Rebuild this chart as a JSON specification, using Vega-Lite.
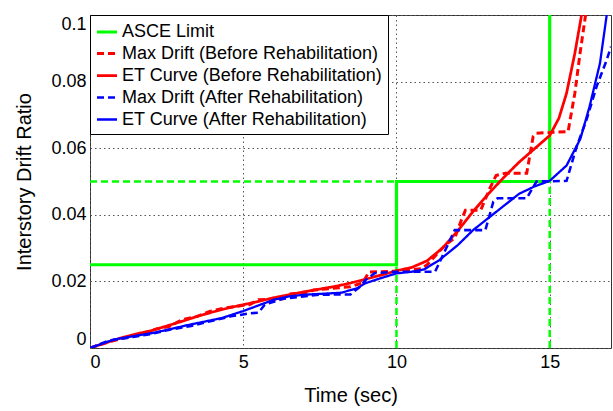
{
  "$schema": "https://vega.github.io/schema/vega-lite/v6.json",
  "width": 521,
  "height": 333,
  "autosize": {"type": "none"},
  "padding": {"left": 90, "top": 15, "right": 2, "bottom": 63},
  "background": "white",
  "datasets": {
    "guides": [
      {"seg": "a", "x": 10, "y": 0}, {"seg": "a", "x": 10, "y": 0.0245},
      {"seg": "b", "x": 0, "y": 0.05}, {"seg": "b", "x": 10, "y": 0.05},
      {"seg": "c", "x": 15, "y": 0}, {"seg": "c", "x": 15, "y": 0.05}
    ],
    "curves": [
      {"s": "ASCE Limit", "x": 0, "y": 0.025},
      {"s": "ASCE Limit", "x": 10, "y": 0.025},
      {"s": "ASCE Limit", "x": 10, "y": 0.05},
      {"s": "ASCE Limit", "x": 15, "y": 0.05},
      {"s": "ASCE Limit", "x": 15, "y": 0.1},

      {"s": "Max Drift (Before Rehabilitation)", "x": 0, "y": 0},
      {"s": "Max Drift (Before Rehabilitation)", "x": 0.5, "y": 0.0015},
      {"s": "Max Drift (Before Rehabilitation)", "x": 1, "y": 0.0028},
      {"s": "Max Drift (Before Rehabilitation)", "x": 1.6, "y": 0.004},
      {"s": "Max Drift (Before Rehabilitation)", "x": 2.2, "y": 0.0058},
      {"s": "Max Drift (Before Rehabilitation)", "x": 2.6, "y": 0.0065},
      {"s": "Max Drift (Before Rehabilitation)", "x": 3, "y": 0.0085},
      {"s": "Max Drift (Before Rehabilitation)", "x": 3.5, "y": 0.0095},
      {"s": "Max Drift (Before Rehabilitation)", "x": 3.9, "y": 0.011},
      {"s": "Max Drift (Before Rehabilitation)", "x": 4.4, "y": 0.012},
      {"s": "Max Drift (Before Rehabilitation)", "x": 5, "y": 0.0128},
      {"s": "Max Drift (Before Rehabilitation)", "x": 5.2, "y": 0.013},
      {"s": "Max Drift (Before Rehabilitation)", "x": 5.5, "y": 0.0145},
      {"s": "Max Drift (Before Rehabilitation)", "x": 6.3, "y": 0.0148},
      {"s": "Max Drift (Before Rehabilitation)", "x": 6.5, "y": 0.0162},
      {"s": "Max Drift (Before Rehabilitation)", "x": 7.1, "y": 0.0166},
      {"s": "Max Drift (Before Rehabilitation)", "x": 7.3, "y": 0.0174},
      {"s": "Max Drift (Before Rehabilitation)", "x": 8.5, "y": 0.0184},
      {"s": "Max Drift (Before Rehabilitation)", "x": 8.9, "y": 0.0196},
      {"s": "Max Drift (Before Rehabilitation)", "x": 9.1, "y": 0.0228},
      {"s": "Max Drift (Before Rehabilitation)", "x": 10, "y": 0.0231},
      {"s": "Max Drift (Before Rehabilitation)", "x": 10.8, "y": 0.0238},
      {"s": "Max Drift (Before Rehabilitation)", "x": 11, "y": 0.025},
      {"s": "Max Drift (Before Rehabilitation)", "x": 11.3, "y": 0.028},
      {"s": "Max Drift (Before Rehabilitation)", "x": 11.6, "y": 0.031},
      {"s": "Max Drift (Before Rehabilitation)", "x": 11.9, "y": 0.033},
      {"s": "Max Drift (Before Rehabilitation)", "x": 12.1, "y": 0.038},
      {"s": "Max Drift (Before Rehabilitation)", "x": 12.25, "y": 0.0414},
      {"s": "Max Drift (Before Rehabilitation)", "x": 12.75, "y": 0.0414},
      {"s": "Max Drift (Before Rehabilitation)", "x": 13.05, "y": 0.048},
      {"s": "Max Drift (Before Rehabilitation)", "x": 13.25, "y": 0.0518},
      {"s": "Max Drift (Before Rehabilitation)", "x": 13.55, "y": 0.0525},
      {"s": "Max Drift (Before Rehabilitation)", "x": 14.25, "y": 0.0525},
      {"s": "Max Drift (Before Rehabilitation)", "x": 14.46, "y": 0.0635},
      {"s": "Max Drift (Before Rehabilitation)", "x": 14.57, "y": 0.0645},
      {"s": "Max Drift (Before Rehabilitation)", "x": 15.6, "y": 0.065},
      {"s": "Max Drift (Before Rehabilitation)", "x": 15.82, "y": 0.0765},
      {"s": "Max Drift (Before Rehabilitation)", "x": 15.99, "y": 0.0885},
      {"s": "Max Drift (Before Rehabilitation)", "x": 16.17, "y": 0.1},

      {"s": "ET Curve (Before Rehabilitation)", "x": 0, "y": 0},
      {"s": "ET Curve (Before Rehabilitation)", "x": 0.5, "y": 0.0015},
      {"s": "ET Curve (Before Rehabilitation)", "x": 1, "y": 0.003},
      {"s": "ET Curve (Before Rehabilitation)", "x": 1.5, "y": 0.0042},
      {"s": "ET Curve (Before Rehabilitation)", "x": 2, "y": 0.0052},
      {"s": "ET Curve (Before Rehabilitation)", "x": 2.5, "y": 0.0066},
      {"s": "ET Curve (Before Rehabilitation)", "x": 3, "y": 0.008},
      {"s": "ET Curve (Before Rehabilitation)", "x": 3.5, "y": 0.0095},
      {"s": "ET Curve (Before Rehabilitation)", "x": 4, "y": 0.0108},
      {"s": "ET Curve (Before Rehabilitation)", "x": 4.5, "y": 0.012},
      {"s": "ET Curve (Before Rehabilitation)", "x": 5, "y": 0.013},
      {"s": "ET Curve (Before Rehabilitation)", "x": 5.5, "y": 0.014},
      {"s": "ET Curve (Before Rehabilitation)", "x": 6, "y": 0.0151},
      {"s": "ET Curve (Before Rehabilitation)", "x": 6.5, "y": 0.016},
      {"s": "ET Curve (Before Rehabilitation)", "x": 7, "y": 0.0169},
      {"s": "ET Curve (Before Rehabilitation)", "x": 7.5, "y": 0.0177},
      {"s": "ET Curve (Before Rehabilitation)", "x": 8, "y": 0.0185},
      {"s": "ET Curve (Before Rehabilitation)", "x": 8.5, "y": 0.0195},
      {"s": "ET Curve (Before Rehabilitation)", "x": 9, "y": 0.0207},
      {"s": "ET Curve (Before Rehabilitation)", "x": 9.5, "y": 0.0219},
      {"s": "ET Curve (Before Rehabilitation)", "x": 10, "y": 0.0232},
      {"s": "ET Curve (Before Rehabilitation)", "x": 10.5, "y": 0.0242},
      {"s": "ET Curve (Before Rehabilitation)", "x": 11, "y": 0.0262},
      {"s": "ET Curve (Before Rehabilitation)", "x": 11.5, "y": 0.03},
      {"s": "ET Curve (Before Rehabilitation)", "x": 12, "y": 0.0352},
      {"s": "ET Curve (Before Rehabilitation)", "x": 12.5, "y": 0.041},
      {"s": "ET Curve (Before Rehabilitation)", "x": 13, "y": 0.0463},
      {"s": "ET Curve (Before Rehabilitation)", "x": 13.5, "y": 0.0512},
      {"s": "ET Curve (Before Rehabilitation)", "x": 14, "y": 0.0558},
      {"s": "ET Curve (Before Rehabilitation)", "x": 14.5, "y": 0.0598},
      {"s": "ET Curve (Before Rehabilitation)", "x": 15, "y": 0.0638},
      {"s": "ET Curve (Before Rehabilitation)", "x": 15.3, "y": 0.069},
      {"s": "ET Curve (Before Rehabilitation)", "x": 15.55, "y": 0.0765},
      {"s": "ET Curve (Before Rehabilitation)", "x": 15.82, "y": 0.0885},
      {"s": "ET Curve (Before Rehabilitation)", "x": 16.04, "y": 0.1},

      {"s": "Max Drift (After Rehabilitation)", "x": 0, "y": 0},
      {"s": "Max Drift (After Rehabilitation)", "x": 0.6, "y": 0.0022},
      {"s": "Max Drift (After Rehabilitation)", "x": 1.2, "y": 0.003},
      {"s": "Max Drift (After Rehabilitation)", "x": 2, "y": 0.0042},
      {"s": "Max Drift (After Rehabilitation)", "x": 2.6, "y": 0.0055},
      {"s": "Max Drift (After Rehabilitation)", "x": 3.3, "y": 0.0066},
      {"s": "Max Drift (After Rehabilitation)", "x": 4, "y": 0.0082},
      {"s": "Max Drift (After Rehabilitation)", "x": 4.6, "y": 0.0095},
      {"s": "Max Drift (After Rehabilitation)", "x": 5.2, "y": 0.0104},
      {"s": "Max Drift (After Rehabilitation)", "x": 5.5, "y": 0.0106},
      {"s": "Max Drift (After Rehabilitation)", "x": 5.7, "y": 0.013},
      {"s": "Max Drift (After Rehabilitation)", "x": 6.3, "y": 0.0148},
      {"s": "Max Drift (After Rehabilitation)", "x": 7.5, "y": 0.016},
      {"s": "Max Drift (After Rehabilitation)", "x": 8.5, "y": 0.0161},
      {"s": "Max Drift (After Rehabilitation)", "x": 8.8, "y": 0.0183},
      {"s": "Max Drift (After Rehabilitation)", "x": 9, "y": 0.0205},
      {"s": "Max Drift (After Rehabilitation)", "x": 9.3, "y": 0.0225},
      {"s": "Max Drift (After Rehabilitation)", "x": 10, "y": 0.0229},
      {"s": "Max Drift (After Rehabilitation)", "x": 11.26, "y": 0.0229},
      {"s": "Max Drift (After Rehabilitation)", "x": 11.9, "y": 0.0354},
      {"s": "Max Drift (After Rehabilitation)", "x": 12.9, "y": 0.0354},
      {"s": "Max Drift (After Rehabilitation)", "x": 13.16, "y": 0.0439},
      {"s": "Max Drift (After Rehabilitation)", "x": 13.3, "y": 0.045},
      {"s": "Max Drift (After Rehabilitation)", "x": 14.25, "y": 0.045},
      {"s": "Max Drift (After Rehabilitation)", "x": 14.57, "y": 0.05},
      {"s": "Max Drift (After Rehabilitation)", "x": 15.55, "y": 0.0502},
      {"s": "Max Drift (After Rehabilitation)", "x": 15.88, "y": 0.0605},
      {"s": "Max Drift (After Rehabilitation)", "x": 16.2, "y": 0.0685},
      {"s": "Max Drift (After Rehabilitation)", "x": 16.53, "y": 0.0785},
      {"s": "Max Drift (After Rehabilitation)", "x": 16.86, "y": 0.0865},
      {"s": "Max Drift (After Rehabilitation)", "x": 17, "y": 0.0905},

      {"s": "ET Curve (After Rehabilitation)", "x": 0, "y": 0},
      {"s": "ET Curve (After Rehabilitation)", "x": 0.8, "y": 0.0026},
      {"s": "ET Curve (After Rehabilitation)", "x": 2.1, "y": 0.0046},
      {"s": "ET Curve (After Rehabilitation)", "x": 3.2, "y": 0.0069},
      {"s": "ET Curve (After Rehabilitation)", "x": 4.3, "y": 0.009},
      {"s": "ET Curve (After Rehabilitation)", "x": 5, "y": 0.0111},
      {"s": "ET Curve (After Rehabilitation)", "x": 6, "y": 0.0145},
      {"s": "ET Curve (After Rehabilitation)", "x": 6.5, "y": 0.0155},
      {"s": "ET Curve (After Rehabilitation)", "x": 7, "y": 0.016},
      {"s": "ET Curve (After Rehabilitation)", "x": 8.2, "y": 0.0166},
      {"s": "ET Curve (After Rehabilitation)", "x": 8.7, "y": 0.0179},
      {"s": "ET Curve (After Rehabilitation)", "x": 9, "y": 0.0195},
      {"s": "ET Curve (After Rehabilitation)", "x": 9.5, "y": 0.021},
      {"s": "ET Curve (After Rehabilitation)", "x": 10, "y": 0.0224},
      {"s": "ET Curve (After Rehabilitation)", "x": 10.5, "y": 0.0229},
      {"s": "ET Curve (After Rehabilitation)", "x": 10.9, "y": 0.0236},
      {"s": "ET Curve (After Rehabilitation)", "x": 11.4, "y": 0.0264},
      {"s": "ET Curve (After Rehabilitation)", "x": 12, "y": 0.0309},
      {"s": "ET Curve (After Rehabilitation)", "x": 12.5, "y": 0.0354},
      {"s": "ET Curve (After Rehabilitation)", "x": 13.05, "y": 0.0394},
      {"s": "ET Curve (After Rehabilitation)", "x": 13.6, "y": 0.0434},
      {"s": "ET Curve (After Rehabilitation)", "x": 14, "y": 0.0463},
      {"s": "ET Curve (After Rehabilitation)", "x": 14.5, "y": 0.0485},
      {"s": "ET Curve (After Rehabilitation)", "x": 15, "y": 0.0502},
      {"s": "ET Curve (After Rehabilitation)", "x": 15.55, "y": 0.0548},
      {"s": "ET Curve (After Rehabilitation)", "x": 16, "y": 0.0628},
      {"s": "ET Curve (After Rehabilitation)", "x": 16.3, "y": 0.0725},
      {"s": "ET Curve (After Rehabilitation)", "x": 16.64, "y": 0.0855},
      {"s": "ET Curve (After Rehabilitation)", "x": 16.86, "y": 0.1}
    ]
  },
  "encoding": {
    "x": {
      "field": "x", "type": "quantitative",
      "scale": {"domain": [0, 17], "nice": false, "zero": false},
      "axis": {"title": "Time (sec)", "values": [0, 5, 10, 15], "format": "~g"}
    },
    "y": {
      "field": "y", "type": "quantitative",
      "scale": {"domain": [0, 0.1], "nice": false},
      "axis": {"title": "Interstory Drift Ratio", "values": [0, 0.02, 0.04, 0.06, 0.08, 0.1], "format": "~g"}
    }
  },
  "layer": [
    {
      "data": {"name": "guides"},
      "mark": {"type": "line", "color": "#00ff00", "strokeDash": [7, 4], "strokeWidth": 2.5, "clip": true},
      "encoding": {
        "detail": {"field": "seg"},
        "order": {"value": null}
      }
    },
    {
      "data": {"name": "curves"},
      "mark": {"type": "line", "clip": true},
      "encoding": {
        "order": {"value": null},
        "color": {
          "field": "s", "type": "nominal",
          "scale": {
            "domain": ["ASCE Limit", "Max Drift (Before Rehabilitation)", "ET Curve (Before Rehabilitation)", "Max Drift (After Rehabilitation)", "ET Curve (After Rehabilitation)"],
            "range": ["#00ff00", "#ff0000", "#ff0000", "#0000ff", "#0000ff"]
          },
          "legend": {"title": null}
        },
        "strokeDash": {
          "field": "s", "type": "nominal",
          "scale": {
            "domain": ["ASCE Limit", "Max Drift (Before Rehabilitation)", "ET Curve (Before Rehabilitation)", "Max Drift (After Rehabilitation)", "ET Curve (After Rehabilitation)"],
            "range": [[1, 0], [7, 4], [1, 0], [7, 4], [1, 0]]
          },
          "legend": {"title": null}
        },
        "strokeWidth": {
          "field": "s", "type": "nominal",
          "scale": {
            "domain": ["ASCE Limit", "Max Drift (Before Rehabilitation)", "ET Curve (Before Rehabilitation)", "Max Drift (After Rehabilitation)", "ET Curve (After Rehabilitation)"],
            "range": [3.2, 2.3, 2.3, 2.3, 2.3]
          },
          "legend": null
        }
      }
    }
  ],
  "config": {
    "font": "Liberation Sans",
    "view": {"stroke": "#333333", "strokeWidth": 1},
    "axis": {
      "domain": false,
      "ticks": false,
      "grid": true,
      "gridColor": "#555555",
      "gridDash": [1.5, 3],
      "gridWidth": 1,
      "labelFont": "Liberation Sans",
      "labelFontSize": 18,
      "labelColor": "#000000",
      "titleFont": "Liberation Sans",
      "titleFontSize": 20,
      "titleFontWeight": "normal",
      "titleColor": "#000000"
    },
    "axisX": {"labelPadding": 5, "titlePadding": 14},
    "axisY": {"labelPadding": 4, "titlePadding": 16, "labelFlush": true},
    "legend": {
      "orient": "top-left",
      "offset": 0,
      "padding": 5,
      "rowPadding": 1,
      "fillColor": "white",
      "strokeColor": "#000000",
      "symbolType": "stroke",
      "symbolSize": 400,
      "symbolStrokeWidth": 2.5,
      "labelFont": "Liberation Sans",
      "labelFontSize": 18,
      "labelColor": "#000000",
      "labelOffset": 3,
      "labelLimit": 400
    }
  }
}
